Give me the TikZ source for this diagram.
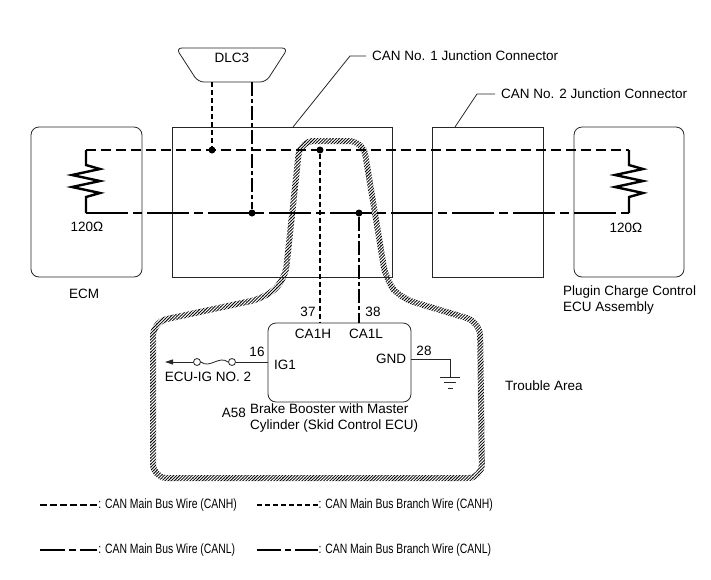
\documentclass[tikz,border=0pt]{standalone}
\usepackage{fontspec}
\setmainfont{Liberation Sans}
\newfontfamily\keyfont[FakeStretch=0.77]{Liberation Sans}
\usetikzlibrary{arrows.meta,patterns.meta}

\begin{document}
\begin{tikzpicture}[x=1pt,y=-1pt,
  every node/.style={font=\fontsize{13.5}{16}\selectfont, inner sep=0pt},
  unit/.style={draw=black!85, line width=0.8pt},
  thin/.style={draw=black!85, line width=0.8pt},
  hbus/.style={line width=2.8pt, dash pattern=on 10pt off 5pt},
  lbus/.style={line width=2.8pt, dash pattern=on 42pt off 5pt on 9pt off 5pt},
  hbranch/.style={line width=1.2pt, dash pattern=on 5pt off 3pt},
  lbranch/.style={line width=1.2pt, dash pattern=on 14pt off 3pt on 4pt off 3pt},
  res/.style={line width=2.4pt},
  tap/.style={circle, fill=black, minimum size=7pt},
  fuse/.style={circle, draw=black!85, line width=0.8pt, fill=white, minimum size=7pt},
  keytext/.style={anchor=west, font=\keyfont\fontsize{13.5}{16}\selectfont}]
  \useasboundingbox (0,0) rectangle (711,579);

  % trouble area (black band, then white hatch lines over it)
  \draw[line width=6pt, rounded corners=14pt]
    (300,141) -- (363,141) -- (386,280) -- (400,298) -- (480,322) -- (482,478)
    -- (153,478) -- (153,322) -- (265,298) -- (285,280) -- cycle;
  \fill[pattern={Lines[angle=45, distance=2.2pt, line width=1.1pt]}, pattern color=white]
    (140,130) rectangle (495,490);
  \node[anchor=west] (trbl) at (505,386) {Trouble Area};

  % units
  \node[unit, rounded corners=8pt, minimum width=111pt, minimum height=150pt] (ecm) at (86.5,202) {};
  \node[unit, minimum width=220pt, minimum height=150pt] (jcone) at (282,202) {};
  \node[unit, minimum width=111pt, minimum height=150pt] (jctwo) at (487.5,202) {};
  \node[unit, rounded corners=8pt, minimum width=110pt, minimum height=150pt] (pcc) at (629,202) {};
  \node[unit, rounded corners=8pt, minimum width=143pt, minimum height=79pt] (ecu) at (339.5,362.5) {};

  \node (ecmlbl) at (84,294) {ECM};
  \node[anchor=west, align=left] (pcclbl) at (563,300) {Plugin Charge Control\\ECU Assembly};

  % DLC3
  \draw[thin, rounded corners=6pt] (176,48) -- (288,48) -- (266,82) -- (198,82) -- cycle;
  \node (dlc) at (232,58) {DLC3};
  \coordinate (dlch) at (212,82);
  \coordinate (dlcl) at (252,82);

  % junction connector labels
  \node[anchor=west] (lblone) at (372,56) {CAN No. 1 Junction Connector};
  \draw[thin] (293,127) -- (350,56) -- ([xshift=-6pt]lblone.west);
  \node[anchor=west] (lbltwo) at (501,94) {CAN No. 2 Junction Connector};
  \draw[thin] (455,127) -- (477,94) -- ([xshift=-6pt]lbltwo.west);

  % bus
  \coordinate (rh1) at (86,150);
  \coordinate (rl1) at (86,213);
  \coordinate (rh2) at (629,150);
  \coordinate (rl2) at (629,213);
  \draw[hbus] (rh1) -- (rh2);
  \draw[lbus] (rl1) -- (rl2);
  \draw[res] (rh1) -- ++(0,15) -- ++(14,4) -- ++(-28,6) -- ++(28,6) -- ++(-28,6) -- ++(28,6) -- ++(-14,4) -- (rl1);
  \draw[res] (rh2) -- ++(0,15) -- ++(14,4) -- ++(-28,6) -- ++(28,6) -- ++(-28,6) -- ++(28,6) -- ++(-14,4) -- (rl2);
  \node (rone) at (87,227) {120Ω};
  \node (rtwo) at (626,228) {120Ω};

  \node[tap] (jh1) at (212,150) {};
  \node[tap] (jh2) at (320,150) {};
  \node[tap] (jl1) at (252,213) {};
  \node[tap] (jl2) at (359,213) {};

  % branches
  \draw[hbranch] (dlch) -- (jh1);
  \draw[lbranch] (dlcl) -- (jl1);
  \draw[hbranch] (jh2) -- (jh2 |- ecu.north);
  \draw[lbranch] (jl2) -- (jl2 |- ecu.north);

  % skid control ECU
  \node (pin37) at (308,312) {37};
  \node (pin38) at (373,312) {38};
  \node (caoneh) at (313,334) {CA1H};
  \node (caonel) at (366,334) {CA1L};
  \node (igone) at (285,365) {IG1};
  \node (gndlbl) at (391,359) {GND};
  \node (pin16) at (257,352) {16};
  \node (pin28) at (424,351) {28};
  \node[anchor=east] (aref) at (246,413) {A58};
  \node[anchor=north west, align=left] (ecuname) at (250,404) {Brake Booster with Master\\Cylinder (Skid Control ECU)};

  \node[fuse] (fusel) at (197,362) {};
  \node[fuse] (fuser) at (232,362) {};
  \draw[thin] (ecu.west |- fuser) -- (fuser);
  \draw[thin] (fusel.east) .. controls (210,369) and (219,355) .. (fuser.west);
  \draw[thin, -{Triangle[length=8pt,width=5pt]}] (fusel) -- (165,362);
  \node (ecuig) at (208,377) {ECU-IG NO. 2};

  \coordinate (gnd) at (450,377);
  \draw[thin] (ecu.east |- gndlbl) -- (gnd |- gndlbl) -- (gnd);
  \draw[thin] ([xshift=-10pt]gnd) -- ([xshift=10pt]gnd);
  \draw[thin] ([xshift=-6pt,yshift=-5.5pt]gnd) -- ([xshift=6pt,yshift=-5.5pt]gnd);
  \draw[thin] ([xshift=-2.5pt,yshift=-11pt]gnd) -- ([xshift=2.5pt,yshift=-11pt]gnd);

  % legend
  \draw[hbus, dash pattern=on 7pt off 3pt] (40,505) -- (97,505) node[keytext] (keyone) {: CAN Main Bus Wire (CANH)};
  \draw[hbranch] (257,505) -- (318,505) node[keytext] (keytwo) {: CAN Main Bus Branch Wire (CANH)};
  \draw[lbus, dash pattern=on 25pt off 4pt on 7pt off 4pt] (40,550) -- (97,550) node[keytext] (keythree) {: CAN Main Bus Wire (CANL)};
  \draw[lbranch, dash pattern=on 24pt off 4pt on 6pt off 4pt] (257,550) -- (318,550) node[keytext] (keyfour) {: CAN Main Bus Branch Wire (CANL)};
\end{tikzpicture}
\end{document}
